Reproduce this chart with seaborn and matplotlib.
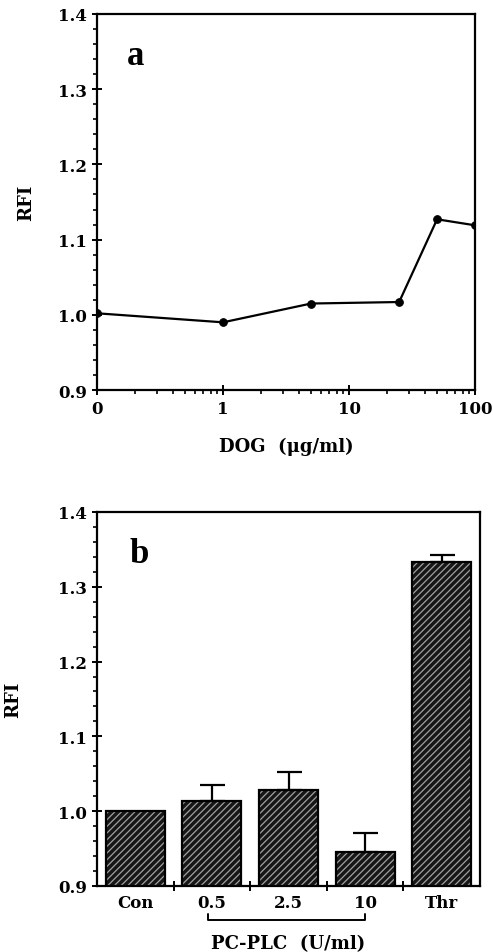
import numpy as np
import pandas as pd
import matplotlib
matplotlib.use("Agg")
import matplotlib.pyplot as plt
import matplotlib.transforms as mtransforms
from matplotlib.ticker import FixedLocator, LogLocator, NullFormatter, MultipleLocator
import seaborn as sns

sns.set_style("ticks")
plt.rcParams["font.family"] = ["DejaVu Serif", "Liberation Serif"]
plt.rcParams["font.weight"] = "bold"
plt.rcParams["hatch.linewidth"] = 0.9
for k in ("text.color", "axes.labelcolor", "xtick.color", "ytick.color", "axes.edgecolor"):
    plt.rcParams[k] = "black"

# panel a: DOG dose response
dog_dose = [0, 1, 5, 25, 50, 100]
dog_rfi = [1.002, 0.990, 1.015, 1.017, 1.127, 1.119]
dog_ticks = [0, 1, 10, 100]

# panel b: PC-PLC bars
plc_labels = ["Con", "0.5", "2.5", "10", "Thr"]
plc_rfi = [1.000, 1.013, 1.028, 0.945, 1.333]
plc_err = [0.0, 0.022, 0.025, 0.026, 0.010]

fs_tick = 12
fs_lab = 13
letter_font = ["Liberation Serif", "DejaVu Serif"]

fig = plt.figure(figsize=(4.93, 9.53), dpi=100)
ax1 = fig.add_axes([0.1968, 0.5897, 0.7667, 0.3946])
ax2 = fig.add_axes([0.1968, 0.0693, 0.7770, 0.3924])

# ---- panel a ----
# dose 0 drawn at 0.1 on the log axis (one decade below 1), labelled "0"
df_a = pd.DataFrame({"dose": dog_dose, "rfi": dog_rfi})
df_a["xpos"] = df_a["dose"].where(df_a["dose"] > 0, 0.1)
sns.lineplot(data=df_a, x="xpos", y="rfi", ax=ax1, color="black", lw=1.6,
             marker="o", markersize=5.5, markeredgecolor="black")
ax1.set_xscale("log")
ax1.set_xlim(0.1, 100)
tick_pos = [t if t > 0 else 0.1 for t in dog_ticks]
ax1.xaxis.set_major_locator(FixedLocator(tick_pos))
ax1.set_xticklabels([str(t) for t in dog_ticks])
ax1.xaxis.set_minor_locator(LogLocator(base=10, subs=np.arange(2, 10)))
ax1.xaxis.set_minor_formatter(NullFormatter())
ax1.set_xlabel("DOG  (\u03bcg/ml)", fontsize=fs_lab, fontweight="bold")
ax1.xaxis.set_label_coords(0.5, -0.125)
ax1.text(0.08, 0.867, "a", transform=ax1.transAxes, fontsize=25,
         fontweight="bold", family=letter_font)

# ---- panel b ----
df_b = pd.DataFrame({"treat": plc_labels, "rfi": plc_rfi})
sns.barplot(data=df_b, x="treat", y="rfi", ax=ax2, color="#161616",
            width=0.77, errorbar=None, saturation=1)
for p in ax2.patches:
    p.set_edgecolor("#a0a0a0")
    p.set_hatch("/////")
    p.set_linewidth(0)
sns.barplot(data=df_b, x="treat", y="rfi", ax=ax2, fill=False,
            edgecolor="black", linewidth=1.6, width=0.77, errorbar=None)

xb = np.arange(len(plc_labels))
err = np.array(plc_err)
m = err > 0
ax2.errorbar(xb[m], np.array(plc_rfi)[m], yerr=[np.zeros(m.sum()), err[m]],
             fmt="none", ecolor="black", elinewidth=1.6, capsize=9, capthick=1.6)

ax2.set_xlim(-0.5, 4.5)
ax2.xaxis.set_major_locator(FixedLocator(np.arange(0.5, 4.5, 1.0)))
ax2.xaxis.set_major_formatter(NullFormatter())
ax2.set_xticks(xb, minor=True)
ax2.set_xticklabels(plc_labels, minor=True, fontsize=fs_tick, fontweight="bold")
ax2.set_xlabel("PC-PLC  (U/ml)", fontsize=fs_lab, fontweight="bold")
ax2.xaxis.set_label_coords(0.5, -0.128)
ax2.text(0.086, 0.866, "b", transform=ax2.transAxes, fontsize=25,
         fontweight="bold", family=letter_font)

# bracket under the PC-PLC doses
trans = mtransforms.blended_transform_factory(ax2.transData, ax2.transAxes)
ax2.plot([0.95, 0.95, 3.0, 3.0], [-0.074, -0.091, -0.091, -0.074], transform=trans,
         color="black", lw=1.4, clip_on=False)

# ---- shared styling ----
for ax in (ax1, ax2):
    ax.set_ylim(0.9, 1.4)
    ax.yaxis.set_major_locator(MultipleLocator(0.1))
    ax.yaxis.set_minor_locator(MultipleLocator(0.02))
    ax.yaxis.set_major_formatter(plt.FormatStrFormatter("%.1f"))
    ax.set_ylabel("RFI", fontsize=fs_lab, fontweight="bold")
    for s in ax.spines.values():
        s.set_visible(True)
        s.set_linewidth(1.6)
        s.set_color("black")
    ax.tick_params(axis="both", which="major", direction="inout", length=7,
                   width=1.4, labelsize=fs_tick, color="black")
    ax.tick_params(axis="both", which="minor", direction="out", length=3, width=1.2)
    for lbl in ax.get_xticklabels() + ax.get_yticklabels():
        lbl.set_fontweight("bold")

ax2.tick_params(axis="x", which="minor", length=0, pad=6)
ax1.yaxis.set_label_coords(-0.164, 0.5)
ax2.yaxis.set_label_coords(-0.196, 0.5)

fig.savefig("out.png", dpi=100, facecolor="white")
